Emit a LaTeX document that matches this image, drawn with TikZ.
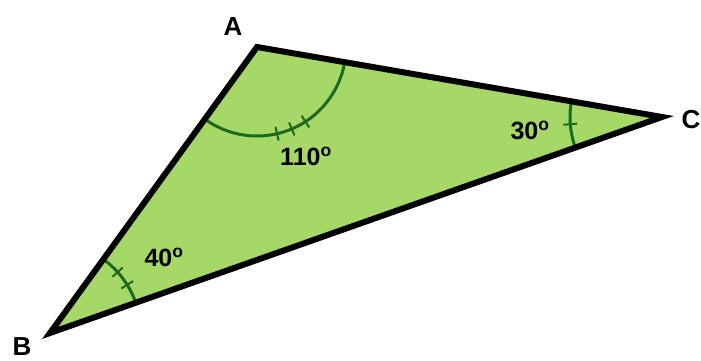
\documentclass[tikz,border=0pt]{standalone}
\usepackage{fontspec}
\setmainfont{Liberation Sans}
\usetikzlibrary{calc}
\definecolor{trifill}{RGB}{166,216,104}
\definecolor{arcgreen}{RGB}{28,105,32}
\tikzset{
  side/.style={line width=6pt, line join=miter, draw=black},
  anglearc/.style={line width=3pt, draw=arcgreen},
  tick/.style={line width=2pt, draw=arcgreen},
  vlabel/.style={font=\bfseries\fontsize{26}{26}\selectfont, inner sep=0pt},
  alabel/.style={font=\bfseries\fontsize{25}{25}\selectfont, inner sep=0pt}
}
\begin{document}
\begin{tikzpicture}[x=1pt,y=1pt]
\useasboundingbox (0,0) rectangle (701,361);
\coordinate (A) at (257,314);
\coordinate (C) at (662,244);
\coordinate (B) at (50,28);
\fill[trifill] (A) -- (C) -- (B) -- cycle;
% angle at A
\draw[anglearc] ($(A)+(-125.9:89)$) arc[start angle=-125.9, end angle=-9.8, radius=89];
\foreach \t in {-77,-67,-57} \draw[tick] ($(A)+(\t:82)$) -- ($(A)+(\t:96)$);
% angle at C
\draw[anglearc] ($(C)+(170.2:92)$) arc[start angle=170.2, end angle=199.4, radius=92];
\draw[tick] ($(C)+(184.5:85)$) -- ($(C)+(184.5:99)$);
% angle at B
\draw[anglearc] ($(B)+(54.1:91)$) arc[start angle=54.1, end angle=19.4, radius=91];
\foreach \t in {42,32} \draw[tick] ($(B)+(\t:84)$) -- ($(B)+(\t:98)$);
\draw[side] (A) -- (C) -- (B) -- cycle;
\node[vlabel] (lA) at (233,334) {A};
\node[vlabel] (lC) at (691,241) {C};
\node[vlabel] (lB) at (22,14) {B};
\node[alabel] (a110) at (306,205) {110\textsuperscript{o}};
\node[alabel] (a30) at (530,231) {30\textsuperscript{o}};
\node[alabel] (a40) at (164,104) {40\textsuperscript{o}};
\end{tikzpicture}
\end{document}
